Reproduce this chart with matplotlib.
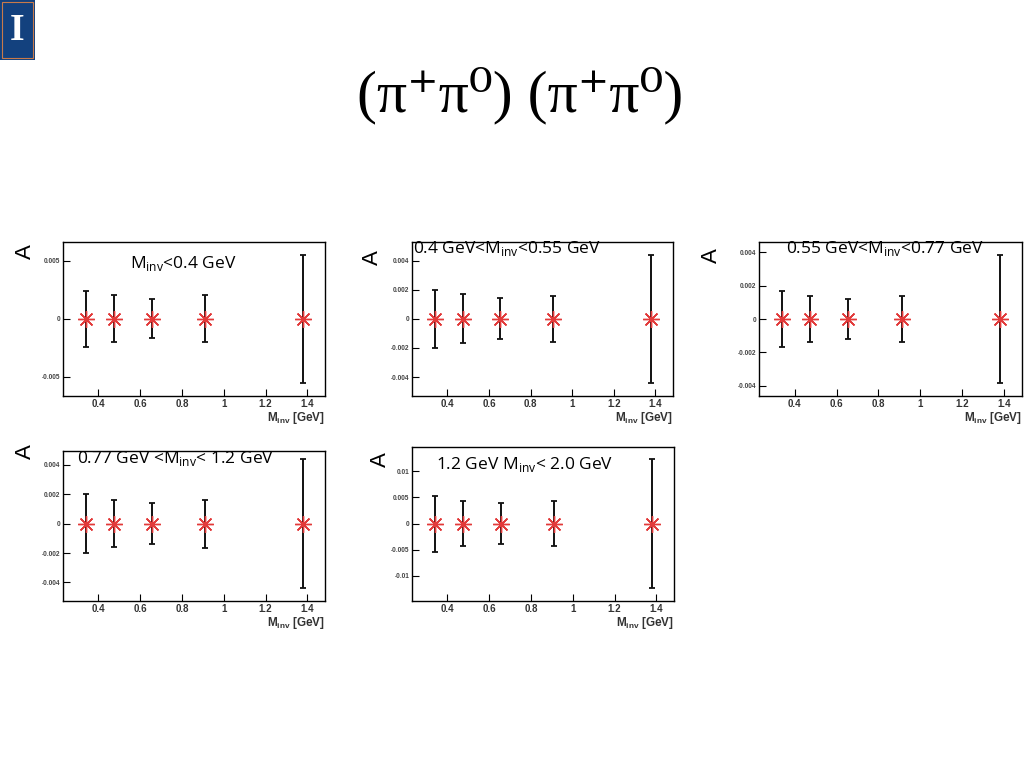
import matplotlib
matplotlib.use("Agg")
import matplotlib.pyplot as plt
from matplotlib.patches import Rectangle

# ---- data ----
m_inv = [0.34, 0.475, 0.655, 0.91, 1.38]
A_vals = [0.0, 0.0, 0.0, 0.0, 0.0]

err_p1 = [0.0024, 0.0020, 0.0017, 0.0020, 0.0055]
err_p2 = [0.0020, 0.00168, 0.0014, 0.00157, 0.00438]
err_p3 = [0.0017, 0.0014, 0.00122, 0.00136, 0.0038]
err_p4 = [0.0020, 0.0016, 0.00139, 0.00164, 0.00439]
err_p5 = [0.00536, 0.00435, 0.0039, 0.00435, 0.01226]

bin_labels = [r"M$_{\mathregular{inv}}$<0.4 GeV",
              r"0.4 GeV<M$_{\mathregular{inv}}$<0.55 GeV",
              r"0.55 GeV<M$_{\mathregular{inv}}$<0.77 GeV",
              r"0.77 GeV <M$_{\mathregular{inv}}$< 1.2 GeV",
              r"1.2 GeV M$_{\mathregular{inv}}$< 2.0 GeV"]

yticks_p1 = [-0.005, 0, 0.005]
yticks_p2 = [-0.004, -0.002, 0, 0.002, 0.004]
yticks_p5 = [-0.01, -0.005, 0, 0.005, 0.01]
ytick_labels_p1 = ["-0.005", "0", "0.005"]
ytick_labels_p2 = ["-0.004", "-0.002", "0", "0.002", "0.004"]
ytick_labels_p5 = ["-0.01", "-0.005", "0", "0.005", "0.01"]
xticks = [0.4, 0.6, 0.8, 1.0, 1.2, 1.4]
xtick_labels = ["0.4", "0.6", "0.8", "1", "1.2", "1.4"]

title_text = "(π⁺π⁰) (π⁺π⁰)"

W, H = 1024, 768
fig = plt.figure(figsize=(10.24, 7.68), dpi=100)
fig.patch.set_facecolor('white')

def px_axes(x0, y0, x1, y1):
    return fig.add_axes([x0 / W, 1 - y1 / H, (x1 - x0) / W, (y1 - y0) / H])

panels = [
    dict(box=(63, 242, 325, 396), err=err_p1, ylim=(-0.00666, 0.00661),
         yt=yticks_p1, ytl=ytick_labels_p1, label=bin_labels[0], lab_xy=(130, 263),
         A_xy=(25, 252)),
    dict(box=(412, 242, 673, 396), err=err_p2, ylim=(-0.0053, 0.00527),
         yt=yticks_p2, ytl=ytick_labels_p2, label=bin_labels[1], lab_xy=(413, 248),
         A_xy=(372, 258)),
    dict(box=(759, 242, 1022, 396), err=err_p3, ylim=(-0.0046, 0.0046),
         yt=yticks_p2, ytl=ytick_labels_p2, label=bin_labels[2], lab_xy=(786, 248),
         A_xy=(711, 256)),
    dict(box=(63, 451, 325, 601), err=err_p4, ylim=(-0.00527, 0.00495),
         yt=yticks_p2, ytl=ytick_labels_p2, label=bin_labels[3], lab_xy=(77, 459),
         A_xy=(25, 452)),
    dict(box=(412, 447, 674, 601), err=err_p5, ylim=(-0.0148, 0.01464),
         yt=yticks_p5, ytl=ytick_labels_p5, label=bin_labels[4], lab_xy=(436, 465),
         A_xy=(380, 460)),
]

for p in panels:
    ax = px_axes(*p['box'])
    ax.errorbar(m_inv, A_vals, yerr=p['err'], fmt='none', ecolor='#111111',
                elinewidth=1.4, capsize=2, capthick=1.3, zorder=2)
    ax.plot(m_inv, A_vals, linestyle='none', marker=(8, 2, 0), markersize=12,
            markeredgecolor='#e23a3a', markeredgewidth=1.0, zorder=3)
    ax.set_xlim(0.23, 1.485)
    ax.set_ylim(*p['ylim'])
    ax.set_xticks(xticks)
    ax.set_xticklabels(xtick_labels, fontsize=7, fontweight='bold',
                       color='#333333', family='Liberation Sans')
    ax.set_yticks(p['yt'])
    ax.set_yticklabels(p['ytl'], fontsize=4.7, fontweight='bold',
                       color='#444444', family='Liberation Sans')
    ax.tick_params(axis='both', direction='in', length=5, width=0.8,
                   top=False, right=False, pad=2)
    for s in ax.spines.values():
        s.set_linewidth(1.0)
        s.set_color('black')
    ax.set_xlabel(r"M$_{\mathregular{inv}}$ [GeV]", fontsize=8.5, fontweight='bold',
                  family='Liberation Sans', color='#333333', loc='right', labelpad=1)
    fig.text(p['lab_xy'][0] / W, 1 - p['lab_xy'][1] / H, p['label'],
             fontsize=12.5, family='Open Sans', ha='left', va='center', color='black')
    fig.text(p['A_xy'][0] / W, 1 - p['A_xy'][1] / H, "A", rotation=90,
             fontsize=16, family='Liberation Sans', ha='center', va='center')

# title
fig.text(520 / W, 1 - 96 / H, title_text, fontsize=43, ha='center', va='center',
         family=['Liberation Serif', 'DejaVu Serif'])

# logo
logo = Rectangle((0, 1 - 60 / H), 35 / W, 60 / H, transform=fig.transFigure,
                 facecolor='#13417e', edgecolor='none')
fig.patches.append(logo)
inner = Rectangle((2 / W, 1 - 58 / H), 31 / W, 56 / H, transform=fig.transFigure,
                  facecolor='none', edgecolor='#c97a4a', linewidth=0.8)
fig.patches.append(inner)
fig.text(17.5 / W, 1 - 31 / H, "I", fontsize=27, family='Liberation Serif',
         fontweight='bold', color='white', ha='center', va='center')

fig.savefig("out.png", dpi=100)
